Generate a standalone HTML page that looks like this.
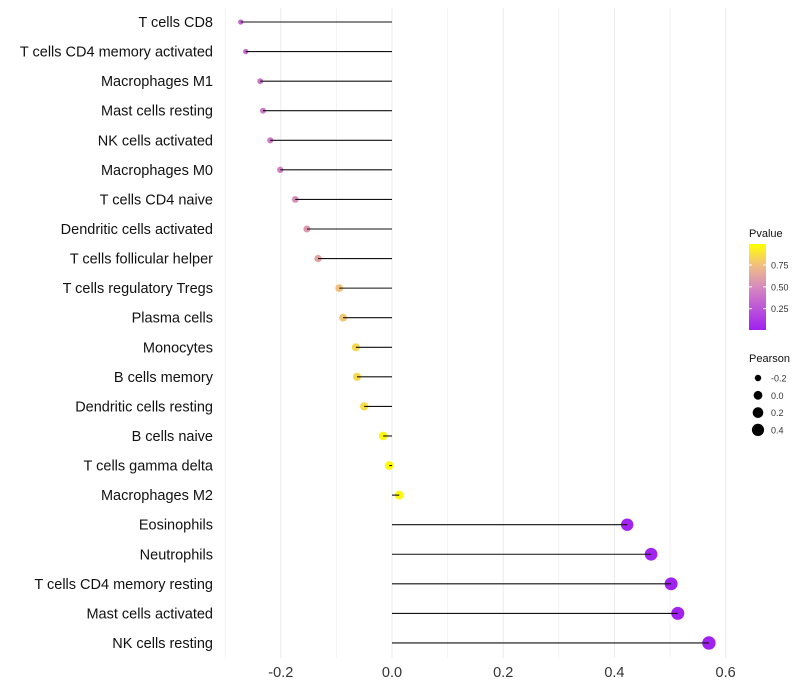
<!DOCTYPE html>
<html><head><meta charset="utf-8"><style>
body{margin:0;background:#fff;font-family:"Liberation Sans",sans-serif}
svg{display:block}
</style></head><body>
<svg id="chart" width="800" height="700"></svg>
<script>
const categories=["T cells CD8","T cells CD4 memory activated","Macrophages M1","Mast cells resting","NK cells activated","Macrophages M0","T cells CD4 naive","Dendritic cells activated","T cells follicular helper","T cells regulatory  Tregs","Plasma cells","Monocytes","B cells memory","Dendritic cells resting","B cells naive","T cells gamma delta","Macrophages M2","Eosinophils","Neutrophils","T cells CD4 memory resting","Mast cells activated","NK cells resting"];
const pearson=[-0.272,-0.263,-0.237,-0.232,-0.219,-0.201,-0.174,-0.153,-0.133,-0.095,-0.088,-0.065,-0.063,-0.050,-0.016,-0.005,0.013,0.423,0.466,0.502,0.514,0.570];
const pvalues=[0.34,0.36,0.4,0.41,0.43,0.46,0.52,0.56,0.62,0.76,0.78,0.85,0.85,0.87,0.96,0.98,0.97,0.02,0.02,0.01,0.01,0.005];
const xTicks=[-0.2,0.0,0.2,0.4,0.6];
const xTickLabels=["-0.2","0.0","0.2","0.4","0.6"];
const legendPTicks=[0.25,0.5,0.75];
const legendSizes=[-0.2,0.0,0.2,0.4];

const NS="http://www.w3.org/2000/svg";
const svg=document.getElementById('chart');
function x(v){return 392+v*556;}
function y(i){return 22+i*29.57;}
function r(v){return Math.sqrt(Math.max(2,19.3+45*v));}
function lerp(a,b,t){return a.map((c,k)=>Math.round(c+(b[k]-c)*t));}
function col(p){const s=[[160,32,240],[214,138,190],[240,190,130],[255,255,0]],st=[0,0.5,0.75,1];
 p=Math.max(0,Math.min(1,p));for(let k=0;k<3;k++){if(p<=st[k+1]){const c=lerp(s[k],s[k+1],(p-st[k])/(st[k+1]-st[k]));return `rgb(${c})`;}}return 'rgb(255,255,0)';}
function mk(t,a,p){const e=document.createElementNS(NS,t);for(const k in a)e.setAttribute(k,a[k]);(p||svg).appendChild(e);return e;}

// gridlines (vertical only)
for(let v=-0.3;v<=0.65;v+=0.1){const g=mk('line',{x1:x(v),x2:x(v),y1:8,y2:658,stroke:'#ebebeb','stroke-width':Math.abs(Math.round(v*10))%2===0?1:0.6});
}

categories.forEach((c,i)=>{
 const d=mk('circle',{cx:x(pearson[i]),cy:y(i),r:r(pearson[i]),fill:col(pvalues[i])});
 
 const l=mk('line',{x1:x(pearson[i]),x2:x(0),y1:y(i),y2:y(i),stroke:'#111','stroke-width':1.1});
 
 const t=mk('text',{x:213,y:y(i)+5,'text-anchor':'end','font-size':14.5,fill:'#111'});t.textContent=c;
 
});
xTicks.forEach((v,i)=>{const t=mk('text',{x:x(v),y:677,'text-anchor':'middle','font-size':14.5,fill:'#333'});t.textContent=xTickLabels[i];
});

// legend colorbar
const defs=mk('defs',{});const lg=mk('linearGradient',{id:'pg',x1:0,y1:1,x2:0,y2:0},defs);
[0,0.25,0.5,0.75,1].forEach(p=>mk('stop',{offset:p,'stop-color':col(p)},lg));
const lt=mk('text',{x:749,y:237,'font-size':11,fill:'#111'});lt.textContent='Pvalue';

const cb=mk('rect',{x:749,y:244,width:17,height:86,fill:'url(#pg)'});

function py(p){return 330-(p-0.006)/(0.984)*86;}
legendPTicks.forEach(p=>{mk('line',{x1:749,x2:752,y1:py(p),y2:py(p),stroke:'#fff'});mk('line',{x1:763,x2:766,y1:py(p),y2:py(p),stroke:'#fff'});
const t=mk('text',{x:771,y:py(p)+3.5,'font-size':9,fill:'#333'});t.textContent=p.toFixed(2);
});
const st=mk('text',{x:749,y:362,'font-size':11,fill:'#111'});st.textContent='Pearson';

legendSizes.forEach((v,i)=>{const cy=378+i*17.3;const c=mk('circle',{cx:758,cy:cy,r:r(v),fill:'#000'});

const t=mk('text',{x:771,y:cy+3.5,'font-size':9,fill:'#333'});t.textContent=v.toFixed(1);
});
</script>
</body></html>
